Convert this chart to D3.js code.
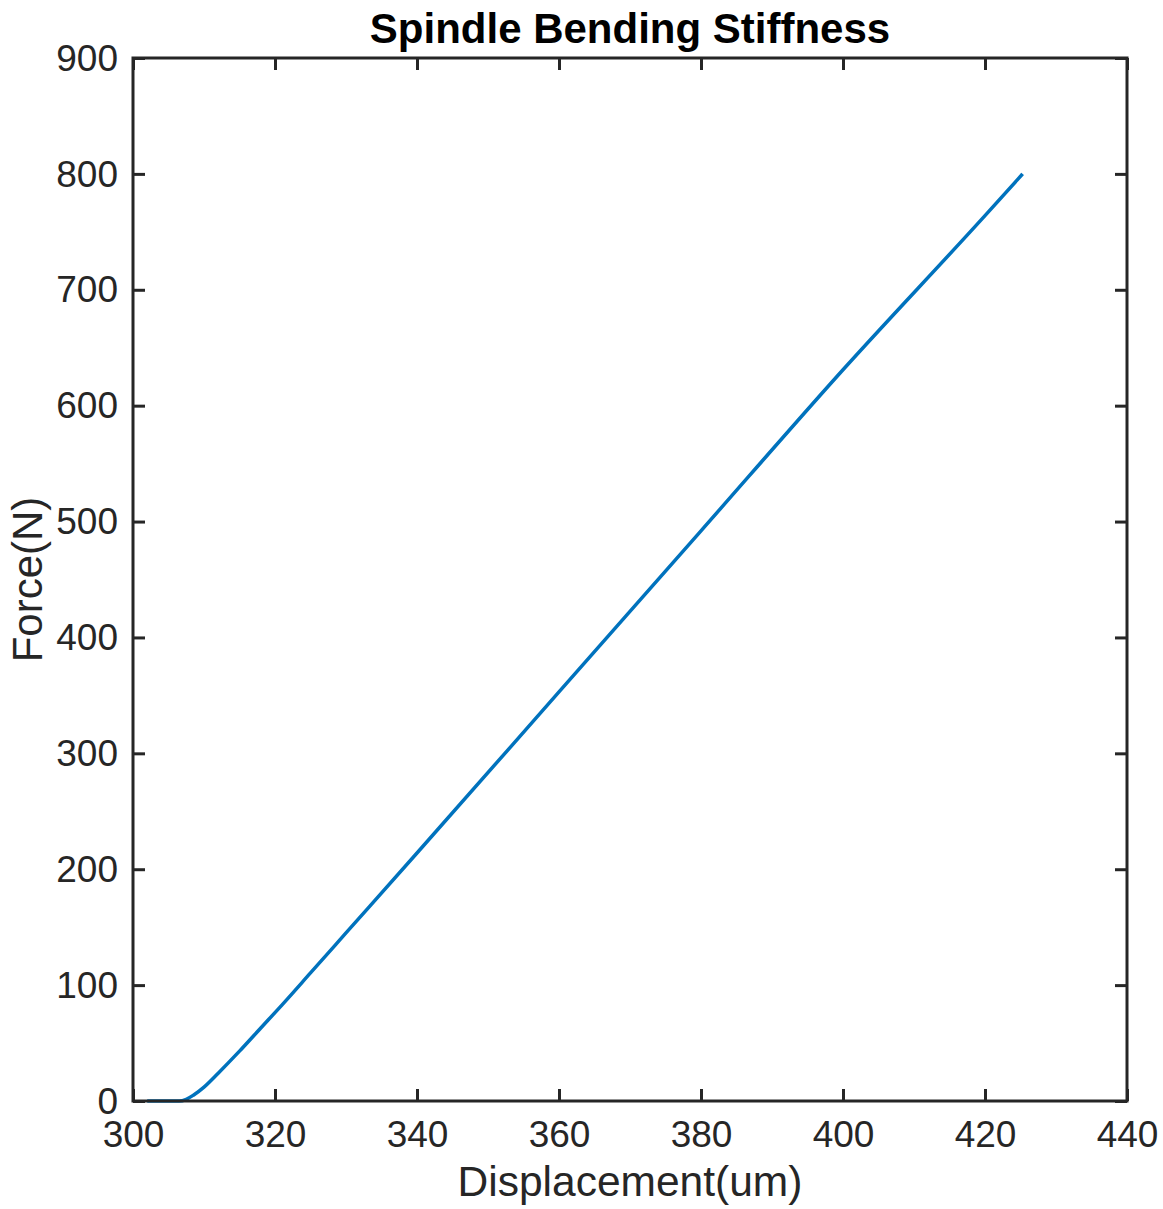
<!DOCTYPE html>
<html lang="en">
	<head>
		<title>Spindle Bending Stiffness</title>
		<script src="https://d3js.org/d3.v7.min.js"></script>
		<style>
			body { margin: 0; background: #fff; }
		</style>
	</head>
	<body>
		<div id="chart"></div>

		<script>
			// values
			var displacement = [302, 306.5, 307.5, 308.5, 310, 312, 315, 318, 321, 325, 330,
								340, 360, 380, 400, 420, 425.3];
			var force = [0, 0, 1.5, 5, 12, 24, 43, 63, 83, 110.5, 145,
						 214, 353, 492, 631, 764, 800];
			var xTicks = [300, 320, 340, 360, 380, 400, 420, 440];
			var yTicks = [0, 100, 200, 300, 400, 500, 600, 700, 800, 900];

			var width = 1163;
			var height = 1209;
			// plot box edges (pixels)
			var plotLeft = 133, plotRight = 1127, plotTop = 58, plotBottom = 1101;
			var axisColor = "#262626";
			var font = "'Liberation Sans', Arial, Helvetica, sans-serif";

			var svg = d3.select("#chart").append("svg")
					.attr("width", width)
					.attr("height", height);

			var x = d3.scaleLinear().domain([300, 440]).range([plotLeft, plotRight]);
			var y = d3.scaleLinear().domain([0, 900]).range([plotBottom, plotTop]);

			var points = displacement.map(function(d, i) { return [d, force[i]]; });

			// curve
			var line = d3.line()
					.x(function(d) { return x(d[0]); })
					.y(function(d) { return y(d[1]); })
					.curve(d3.curveMonotoneX);

			svg.append("path")
				.datum(points)
				.attr("d", line)
				.attr("fill", "none")
				.attr("stroke", "#0072BD")
				.attr("stroke-width", 3.5);

			// axes (ticks point inward, box on all sides)
			function styleAxis(g) {
				g.select(".domain").remove();
				g.selectAll(".tick line").attr("stroke", axisColor).attr("stroke-width", 3);
				g.selectAll(".tick text")
					.attr("fill", axisColor)
					.attr("font-family", font)
					.attr("font-size", 37);
			}

			svg.append("g")
				.attr("transform", "translate(0," + plotBottom + ")")
				.call(d3.axisBottom(x).tickValues(xTicks).tickSizeInner(-12).tickSizeOuter(0))
				.call(styleAxis)
				.selectAll(".tick text").attr("dy", "0.71em").attr("y", 20);

			svg.append("g")
				.attr("transform", "translate(" + plotLeft + ",0)")
				.call(d3.axisLeft(y).tickValues(yTicks).tickSizeInner(-12).tickSizeOuter(0))
				.call(styleAxis)
				.selectAll(".tick text").attr("x", -15).attr("dy", "0.33em");

			svg.append("g")
				.attr("transform", "translate(0," + plotTop + ")")
				.call(d3.axisTop(x).tickValues(xTicks).tickSizeInner(-12).tickSizeOuter(0).tickFormat(""))
				.call(styleAxis);

			svg.append("g")
				.attr("transform", "translate(" + plotRight + ",0)")
				.call(d3.axisRight(y).tickValues(yTicks).tickSizeInner(-12).tickSizeOuter(0).tickFormat(""))
				.call(styleAxis);

			svg.append("rect")
				.attr("x", plotLeft)
				.attr("y", plotTop)
				.attr("width", plotRight - plotLeft)
				.attr("height", plotBottom - plotTop)
				.attr("fill", "none")
				.attr("stroke", axisColor)
				.attr("stroke-width", 3);

			// labels
			svg.append("text")
				.attr("x", (plotLeft + plotRight) / 2)
				.attr("y", 43)
				.attr("text-anchor", "middle")
				.attr("font-family", font)
				.attr("font-weight", "bold")
				.attr("font-size", 42)
				.attr("fill", "#000")
				.text("Spindle Bending Stiffness");

			svg.append("text")
				.attr("x", (plotLeft + plotRight) / 2)
				.attr("y", 1196)
				.attr("text-anchor", "middle")
				.attr("font-family", font)
				.attr("font-size", 42.5)
				.attr("fill", axisColor)
				.text("Displacement(um)");

			svg.append("text")
				.attr("transform", "translate(42," + (plotTop + plotBottom) / 2 + ") rotate(-90)")
				.attr("text-anchor", "middle")
				.attr("font-family", font)
				.attr("font-size", 42)
				.attr("fill", axisColor)
				.text("Force(N)");
		</script>
	</body>
</html>
